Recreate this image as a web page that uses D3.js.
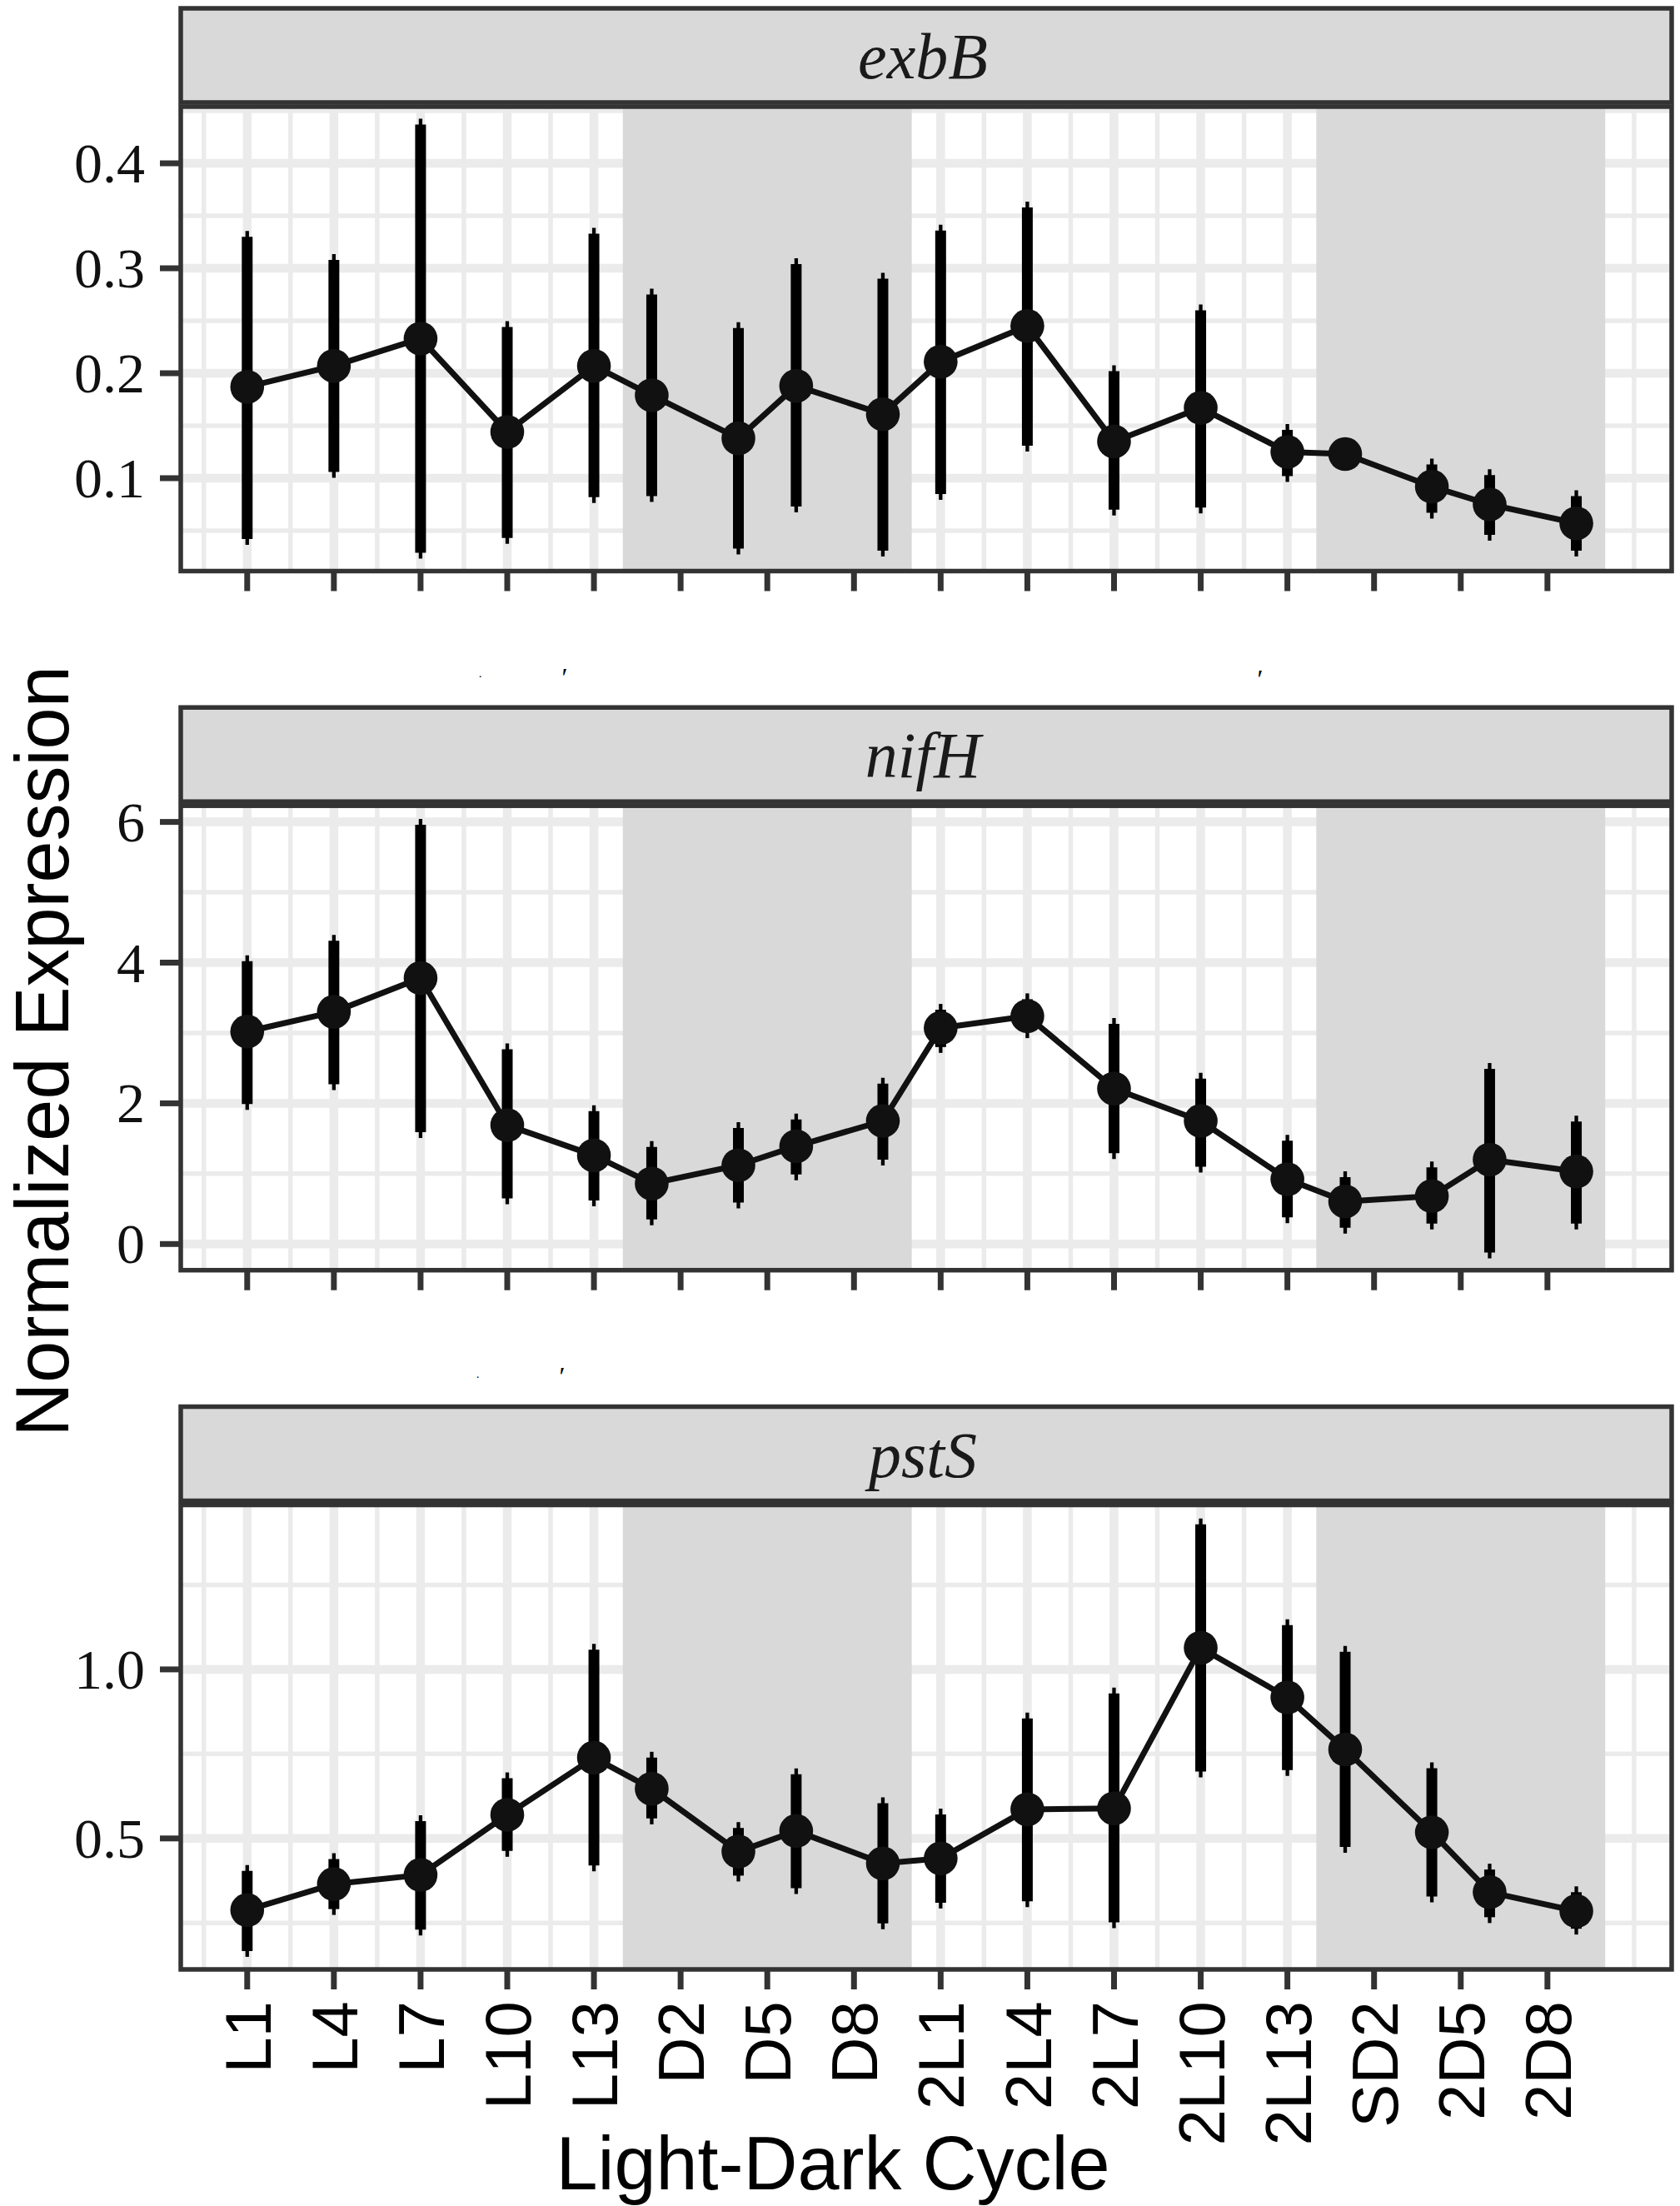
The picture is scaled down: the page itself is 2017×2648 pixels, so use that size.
<!DOCTYPE html>
<html>
<head>
<meta charset="utf-8">
<script src="https://cdn.jsdelivr.net/npm/d3@7"></script>
<style>
  body { margin: 0; background: #fff; }
  svg { display: block; }
</style>
</head>
<body>
<svg id="chart" width="2017" height="2648"></svg>
<script>
"use strict";

// x axis: hours into the light-dark cycle, labels at every 3 h
const tickHours = [1, 4, 7, 10, 13, 16, 19, 22, 25, 28, 31, 34, 37, 40, 43, 46];
const tickLabels = ["L1", "L4", "L7", "L10", "L13", "D2", "D5", "D8",
  "2L1", "2L4", "2L7", "2L10", "2L13", "SD2", "2D5", "2D8"];
const sampleHours = [1, 4, 7, 10, 13, 15, 18, 20, 23, 25, 28, 31, 34, 37, 39, 42, 44, 47];
const darkPeriods = [[14, 24], [38, 48]];

const genes = ["exbB", "nifH", "pstS"];

const exbBMean = [0.187, 0.207, 0.233, 0.144, 0.207, 0.179, 0.138, 0.188, 0.161,
  0.211, 0.245, 0.135, 0.167, 0.125, 0.123, 0.092, 0.075, 0.057];
const exbBLow = [0.042, 0.106, 0.029, 0.043, 0.082, 0.083, 0.033, 0.073, 0.031,
  0.085, 0.131, 0.070, 0.072, 0.102, 0.116, 0.067, 0.046, 0.031];
const exbBHigh = [0.330, 0.308, 0.437, 0.244, 0.333, 0.275, 0.243, 0.304, 0.290,
  0.336, 0.358, 0.202, 0.260, 0.146, 0.130, 0.113, 0.103, 0.083];

const nifHMean = [3.02, 3.30, 3.78, 1.69, 1.26, 0.86, 1.12, 1.39, 1.75,
  3.07, 3.24, 2.21, 1.75, 0.92, 0.605, 0.68, 1.20, 1.03];
const nifHLow = [1.99, 2.27, 1.59, 0.65, 0.62, 0.35, 0.59, 0.99, 1.20,
  2.80, 3.01, 1.29, 1.10, 0.38, 0.23, 0.29, -0.12, 0.29];
const nifHHigh = [4.02, 4.31, 5.96, 2.77, 1.89, 1.38, 1.65, 1.77, 2.28,
  3.33, 3.48, 3.13, 2.35, 1.47, 0.95, 1.09, 2.49, 1.74];

const pstSMean = [0.288, 0.365, 0.392, 0.570, 0.739, 0.647, 0.461, 0.522, 0.426,
  0.441, 0.586, 0.589, 1.064, 0.917, 0.763, 0.518, 0.341, 0.285];
const pstSLow = [0.167, 0.291, 0.230, 0.463, 0.420, 0.559, 0.390, 0.353, 0.249,
  0.310, 0.314, 0.252, 0.698, 0.702, 0.475, 0.328, 0.267, 0.233];
const pstSHigh = [0.404, 0.439, 0.551, 0.678, 1.058, 0.739, 0.531, 0.690, 0.604,
  0.571, 0.855, 0.929, 1.429, 1.131, 1.052, 0.708, 0.408, 0.341];

const yTickValues = [[0.1, 0.2, 0.3, 0.4], [0, 2, 4, 6], [0.5, 1.0]];
const yTickLabels = [["0.1", "0.2", "0.3", "0.4"], ["0", "2", "4", "6"], ["0.5", "1.0"]];

const xTitle = "Light-Dark Cycle";
const yTitle = "Normalized Expression";

// ---- layout ----
const left = 217, right = 2007;
const panelTops = [128, 967.2, 1806.5];
const panelH = 557.5;
const stripH = 113;
const yDomains = [[0.0115, 0.454], [-0.372, 6.23], [0.1126, 1.4864]];

const dark = "#333333";
const grey = "#d9d9d9";
const gridCol = "#ebebeb";
const ink = "#111111";
const serif = "'Liberation Serif', 'DejaVu Serif', serif";
const sans = "'Liberation Sans', Arial, sans-serif";

const series = [
  { mean: exbBMean, low: exbBLow, high: exbBHigh },
  { mean: nifHMean, low: nifHLow, high: nifHHigh },
  { mean: pstSMean, low: pstSLow, high: pstSHigh }
];

const svg = d3.select("#chart");
svg.append("rect").attr("width", 2017).attr("height", 2648).attr("fill", "#fff");

const x = d3.scaleLinear().domain([-1.3, 50.3]).range([left, right]);

// ggplot-like minor breaks: midpoints plus one extra major beyond each end
function minorBreaks(major, domain) {
  const bd = major[1] - major[0];
  const b = major.slice();
  if (domain[0] < b[0]) b.unshift(b[0] - bd);
  if (domain[1] > b[b.length - 1]) b.push(b[b.length - 1] + bd);
  const out = [];
  for (let i = 0; i < b.length - 1; i++) out.push(b[i], (b[i] + b[i + 1]) / 2);
  out.push(b[b.length - 1]);
  const eps = bd * 1e-6;
  return out.filter(v => !major.some(m => Math.abs(m - v) < eps) && v > domain[0] && v < domain[1]);
}

const xMinor = minorBreaks(tickHours, x.domain());

genes.forEach((gene, i) => {
  const top = panelTops[i];
  const bottom = top + panelH;
  const y = d3.scaleLinear().domain(yDomains[i]).range([bottom, top]);
  const s = series[i];
  const rows = sampleHours.map((h, k) => ({ h, m: s.mean[k], lo: s.low[k], hi: s.high[k] }));

  const g = svg.append("g").attr("class", "panel-" + gene);

  const clipId = "clip" + i;
  g.append("clipPath").attr("id", clipId)
    .append("rect").attr("x", left).attr("y", top).attr("width", right - left).attr("height", panelH);

  const inner = g.append("g").attr("clip-path", `url(#${clipId})`);
  inner.append("rect").attr("x", left).attr("y", top)
    .attr("width", right - left).attr("height", panelH).attr("fill", "#fff");

  // grid
  const yMinor = minorBreaks(yTickValues[i], yDomains[i]);
  inner.selectAll("line.hminor").data(yMinor).join("line")
    .attr("x1", left).attr("x2", right).attr("y1", d => y(d)).attr("y2", d => y(d))
    .attr("stroke", gridCol).attr("stroke-width", 5.5);
  inner.selectAll("line.vminor").data(xMinor).join("line")
    .attr("y1", top).attr("y2", bottom).attr("x1", d => x(d)).attr("x2", d => x(d))
    .attr("stroke", gridCol).attr("stroke-width", 5.5);
  inner.selectAll("line.hmajor").data(yTickValues[i]).join("line")
    .attr("x1", left).attr("x2", right).attr("y1", d => y(d)).attr("y2", d => y(d))
    .attr("stroke", gridCol).attr("stroke-width", 10.5);
  inner.selectAll("line.vmajor").data(tickHours).join("line")
    .attr("y1", top).attr("y2", bottom).attr("x1", d => x(d)).attr("x2", d => x(d))
    .attr("stroke", gridCol).attr("stroke-width", 10.5);

  // dark periods
  inner.selectAll("rect.dark").data(darkPeriods).join("rect")
    .attr("x", d => x(d[0])).attr("width", d => x(d[1]) - x(d[0]))
    .attr("y", top).attr("height", panelH).attr("fill", grey);

  // connecting line
  inner.append("path").datum(rows)
    .attr("d", d3.line().x(d => x(d.h)).y(d => y(d.m)))
    .attr("fill", "none").attr("stroke", ink).attr("stroke-width", 7)
    .attr("stroke-linejoin", "round");

  // error bars: thin tip + thick range
  inner.selectAll("line.tip").data(rows).join("line")
    .attr("x1", d => x(d.h)).attr("x2", d => x(d.h))
    .attr("y1", d => y(d.hi) - 7).attr("y2", d => y(d.lo) + 7)
    .attr("stroke", "#000").attr("stroke-width", 4.3);
  inner.selectAll("line.bar").data(rows).join("line")
    .attr("x1", d => x(d.h)).attr("x2", d => x(d.h))
    .attr("y1", d => y(d.hi)).attr("y2", d => y(d.lo))
    .attr("stroke", "#000").attr("stroke-width", 13);

  inner.selectAll("circle").data(rows).join("circle")
    .attr("cx", d => x(d.h)).attr("cy", d => y(d.m)).attr("r", 20.3)
    .attr("fill", ink);

  // panel border
  g.append("rect").attr("x", left).attr("y", top)
    .attr("width", right - left).attr("height", panelH)
    .attr("fill", "none").attr("stroke", dark).attr("stroke-width", 5.5);

  // strip
  g.append("rect").attr("x", left).attr("y", top - 5 - stripH)
    .attr("width", right - left).attr("height", stripH)
    .attr("fill", grey).attr("stroke", dark).attr("stroke-width", 5.5);
  g.append("text")
    .attr("x", (left + right) / 2 - 4).attr("y", top - 5 - stripH + 84)
    .attr("text-anchor", "middle")
    .attr("font-family", serif).attr("font-style", "italic").attr("font-size", 78)
    .attr("fill", "#1a1a1a").text(gene);

  // y axis
  const ya = g.append("g");
  ya.selectAll("line").data(yTickValues[i]).join("line")
    .attr("x1", 192).attr("x2", left - 2).attr("y1", d => y(d)).attr("y2", d => y(d))
    .attr("stroke", dark).attr("stroke-width", 7);
  ya.selectAll("text").data(yTickValues[i]).join("text")
    .attr("x", 174).attr("y", d => y(d) + 23)
    .attr("text-anchor", "end")
    .attr("font-family", serif).attr("font-size", 68).attr("fill", "#111")
    .text((d, k) => yTickLabels[i][k]);

  // x ticks on every panel
  g.append("g").selectAll("line").data(tickHours).join("line")
    .attr("x1", d => x(d)).attr("x2", d => x(d))
    .attr("y1", bottom + 2).attr("y2", bottom + 24)
    .attr("stroke", dark).attr("stroke-width", 7);

  if (i === genes.length - 1) {
    g.append("g").selectAll("text").data(tickHours).join("text")
      .attr("transform", d => `translate(${x(d)},${bottom + 38}) rotate(-90)`)
      .attr("text-anchor", "end").attr("dy", "0.36em")
      .attr("font-family", sans).attr("font-size", 78).attr("fill", "#000")
      .text((d, k) => tickLabels[k]);
  }
});

// axis titles
svg.append("text")
  .attr("x", 1000).attr("y", 2628).attr("text-anchor", "middle")
  .attr("font-family", sans).attr("font-size", 90).attr("fill", "#000")
  .text(xTitle);
svg.append("text")
  .attr("transform", "translate(82,1262) rotate(-90)").attr("text-anchor", "middle")
  .attr("font-family", sans).attr("font-size", 90).attr("fill", "#000")
  .text(yTitle);

// small stray marks visible between the panels
const strayMarks = [
  { x: 676, y: 824, t: "\u2032" }, { x: 1511, y: 826, t: "\u2032" },
  { x: 673, y: 1663, t: "\u2032" },
  { x: 577, y: 813, t: "." }, { x: 574, y: 1654, t: "." }
];
svg.append("g").selectAll("text").data(strayMarks).join("text")
  .attr("x", d => d.x).attr("y", d => d.y).attr("text-anchor", "middle")
  .attr("font-family", serif).attr("font-style", "italic")
  .attr("font-size", d => d.t === "." ? 14 : 32).attr("fill", "#000")
  .text(d => d.t);
</script>
</body>
</html>
